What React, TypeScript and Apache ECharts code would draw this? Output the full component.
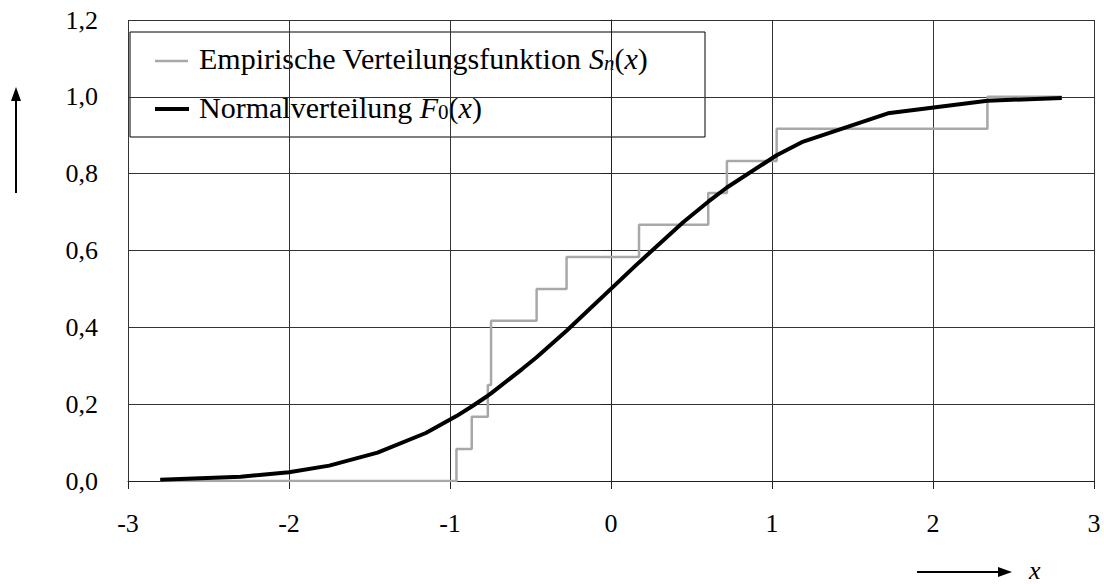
import React, { useEffect, useRef } from "react";
import * as echarts from "echarts";

// Empirical distribution function S_n(x): jump points and level after each jump
const empiricalX = [-2.8, -0.96, -0.865, -0.765, -0.745, -0.462, -0.276, 0.174, 0.604, 0.72, 1.029, 2.338, 2.8];
const empiricalY = [0, 0.083, 0.167, 0.25, 0.417, 0.5, 0.583, 0.667, 0.75, 0.833, 0.917, 1.0, 1.0];

// Normal distribution F_0(x), sampled points connected by straight segments
const normalX = [-2.8, -2.3, -2.0, -1.75, -1.45, -1.15, -0.96, -0.865, -0.765, -0.745, -0.55, -0.462, -0.276, 0.174, 0.45, 0.604, 0.72, 1.029, 1.185, 1.72, 2.338, 2.8];
const normalY = [0.003, 0.011, 0.023, 0.04, 0.074, 0.125, 0.169, 0.194, 0.222, 0.228, 0.292, 0.322, 0.391, 0.569, 0.674, 0.727, 0.764, 0.848, 0.882, 0.957, 0.99, 0.997];

const xTickLabels = ["-3", "-2", "-1", "0", "1", "2", "3"];
const yTickLabels = ["0,0", "0,2", "0,4", "0,6", "0,8", "1,0", "1,2"];

const SERIF = "Liberation Serif";
const EMP_COLOR = "#a8a8a8";
const LEGEND_FONT = 30;

export default function App() {
  const ref = useRef<HTMLDivElement>(null);

  useEffect(() => {
    if (!ref.current) return;
    const chart = echarts.init(ref.current, null, { renderer: "svg" });

    const empData = empiricalX.map((x, i) => [x, empiricalY[i]]);
    const normData = normalX.map((x, i) => [x, normalY[i]]);

    const rich = {
      t: { fontFamily: SERIF, fontSize: LEGEND_FONT, fill: "#000" },
      i: { fontFamily: SERIF, fontSize: LEGEND_FONT, fontStyle: "italic", fill: "#000" },
      si: { fontFamily: SERIF, fontSize: 21, fontStyle: "italic", fill: "#000", verticalAlign: "bottom", lineHeight: 20 },
      s: { fontFamily: SERIF, fontSize: 21, fill: "#000", verticalAlign: "bottom", lineHeight: 20 },
    };

    chart.setOption({
      animation: false,
      backgroundColor: "#fff",
      grid: { left: 128, right: 10, top: 20, bottom: 103, show: false },
      xAxis: {
        type: "value",
        min: -3,
        max: 3,
        interval: 1,
        axisLine: { show: true, onZero: false, lineStyle: { color: "#222", width: 1 } },
        axisTick: { show: true, length: 8, lineStyle: { color: "#222" } },
        axisLabel: {
          margin: 29,
          fontFamily: SERIF,
          fontSize: 26,
          color: "#000",
          formatter: (v: number) => xTickLabels[Math.round(v) + 3],
        },
        splitLine: { show: true, lineStyle: { color: "#333", width: 1 } },
      },
      yAxis: {
        type: "value",
        min: 0,
        max: 1.2,
        interval: 0.2,
        axisLine: { show: true, lineStyle: { color: "#222", width: 1 } },
        axisTick: { show: true, length: 10, lineStyle: { color: "#222" } },
        axisLabel: {
          margin: 30,
          fontFamily: SERIF,
          fontSize: 26,
          color: "#000",
          formatter: (v: number) => yTickLabels[Math.round(v * 5)],
        },
        splitLine: { show: true, lineStyle: { color: "#333", width: 1 } },
      },
      series: [
        {
          name: "Empirische Verteilungsfunktion",
          type: "line",
          step: "end",
          data: empData,
          symbol: "none",
          lineStyle: { color: EMP_COLOR, width: 2.5 },
          z: 2,
        },
        {
          name: "Normalverteilung",
          type: "line",
          data: normData,
          symbol: "none",
          lineStyle: { color: "#000", width: 4 },
          z: 3,
        },
      ],
      graphic: [
        // legend box
        {
          type: "group",
          z: 100,
          children: [
            {
              type: "rect",
              shape: { x: 130, y: 32, width: 575, height: 105 },
              style: { fill: "#fff", stroke: "#000", lineWidth: 1 },
            },
            { type: "line", shape: { x1: 155, y1: 61, x2: 188, y2: 61 }, style: { stroke: EMP_COLOR, lineWidth: 2.5 } },
            { type: "line", shape: { x1: 155, y1: 109, x2: 189, y2: 109 }, style: { stroke: "#000", lineWidth: 4 } },
            {
              type: "text",
              x: 199,
              y: 58,
              style: {
                text: "{t|Empirische Verteilungsfunktion }{i|S}{si|n}{t|(}{i|x}{t|)}",
                rich,
                fontFamily: SERIF,
                fontSize: LEGEND_FONT,
                verticalAlign: "middle",
              },
            },
            {
              type: "text",
              x: 199,
              y: 107,
              style: {
                text: "{t|Normalverteilung }{i|F}{s|0}{t|(}{i|x}{t|)}",
                rich,
                fontFamily: SERIF,
                fontSize: LEGEND_FONT,
                verticalAlign: "middle",
              },
            },
          ],
        },
        // upward arrow beside the y axis
        { type: "line", shape: { x1: 16, y1: 100, x2: 16, y2: 193 }, style: { stroke: "#000", lineWidth: 2 } },
        { type: "polygon", shape: { points: [[16, 87], [11, 101], [21, 101]] }, style: { fill: "#000" } },
        // rightward arrow below the x axis
        { type: "line", shape: { x1: 917, y1: 572, x2: 1000, y2: 572 }, style: { stroke: "#000", lineWidth: 2 } },
        { type: "polygon", shape: { points: [[1012, 572], [998, 567], [998, 577]] }, style: { fill: "#000" } },
        {
          type: "text",
          x: 1029,
          y: 570,
          style: { text: "x", fontFamily: SERIF, fontSize: 26, fontStyle: "italic", fill: "#000", verticalAlign: "middle" },
        },
      ],
    });

    return () => chart.dispose();
  }, []);

  return (
    <div
      ref={ref}
      style={{ position: "absolute", left: 0, top: 0, width: 1104, height: 584 }}
    />
  );
}
